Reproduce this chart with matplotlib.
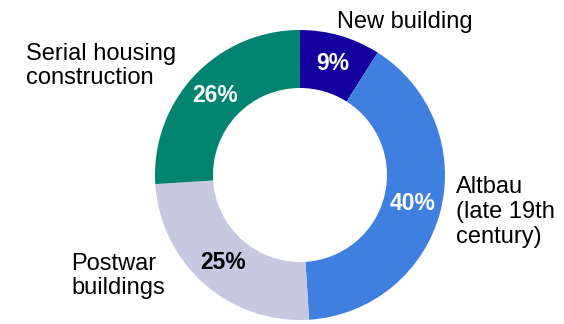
import matplotlib.pyplot as plt

# building stock by construction period
segments = ['New building', 'Altbau\n(late 19th\ncentury)', 'Postwar\nbuildings', 'Serial housing\nconstruction']
shares = [9, 40, 25, 26]
colors = ['#14009F', '#3E7FE0', '#C8C8E1', '#00846F']
pct_colors = ['white', 'white', 'black', 'white']

# outer label anchors (pixels, left aligned)
label_pos = [(337, 22), (456, 212), (71, 276), (26, 66)]

plt.rcParams['font.family'] = ['Liberation Sans', 'DejaVu Sans']

fig = plt.figure(figsize=(5.64, 3.24), dpi=100)
ax = fig.add_axes([0, 0, 1, 1])
ax.set_xlim(0, 564)
ax.set_ylim(0, 324)
ax.set_aspect('equal')
ax.axis('off')

wedges, texts, autotexts = ax.pie(
    shares, colors=colors, startangle=90, counterclock=False,
    center=(300, 324 - 175), radius=145,
    wedgeprops=dict(width=58, edgecolor='none'),
    autopct='%d%%', pctdistance=0.8,
    textprops=dict(fontsize=16.5, fontweight='bold'))
for t, c in zip(autotexts, pct_colors):
    t.set_color(c)

ax.set_xlim(0, 564)
ax.set_ylim(0, 324)

for name, (x, y) in zip(segments, label_pos):
    ax.text(x, 324 - y, name, fontsize=17, ha='left', va='center',
            linespacing=1.17, color='black')

fig.savefig('out.png', dpi=100)
